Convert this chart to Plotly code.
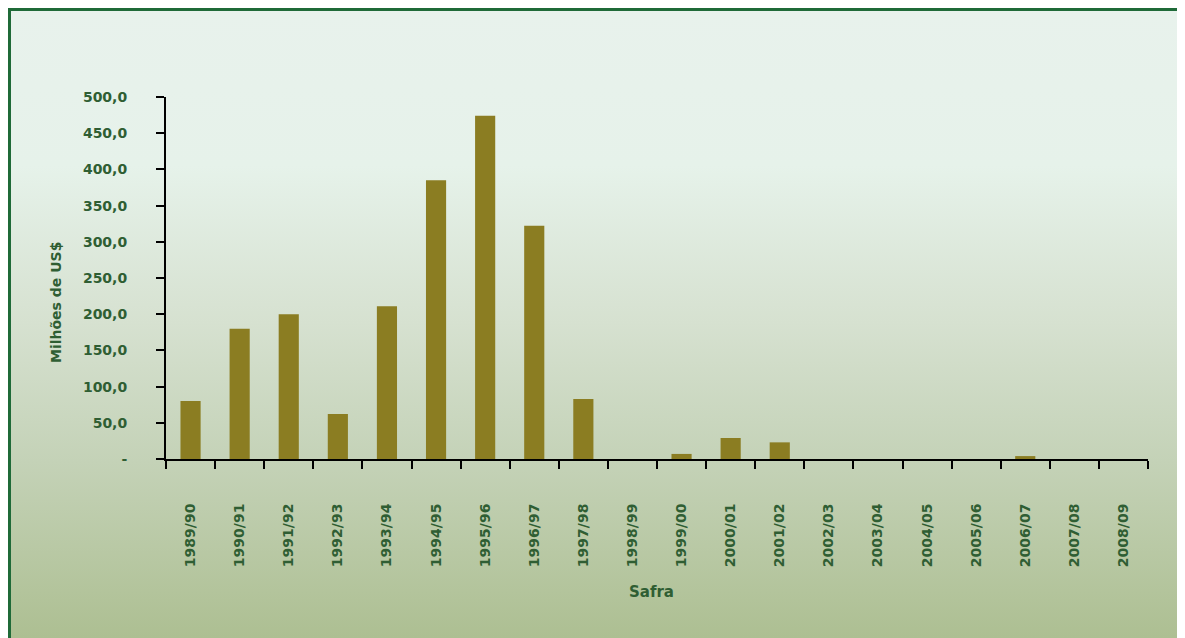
import base64
import plotly.graph_objects as go

# ---- data ----
safras = ["1989/90", "1990/91", "1991/92", "1992/93", "1993/94", "1994/95", "1995/96",
          "1996/97", "1997/98", "1998/99", "1999/00", "2000/01", "2001/02", "2002/03",
          "2003/04", "2004/05", "2005/06", "2006/07", "2007/08", "2008/09"]
valores = [80, 180, 200, 62, 211, 385, 474, 322, 83, 0, 7, 29, 23, 0, 0, 0, 0, 4, 0, 0]
y_tickvals = [0, 50, 100, 150, 200, 250, 300, 350, 400, 450, 500]
y_ticktext = ["-", "50,0", "100,0", "150,0", "200,0", "250,0", "300,0", "350,0",
              "400,0", "450,0", "500,0"]
y_title = "Milhões de US$"
x_title = "Safra"

# ---- layout geometry (pixels); page body has an 8px margin ----
OFF = 8
W, H = 1185 - OFF, 638 - OFF
L, R, T, B = 166 - OFF, 37, 97 - OFF, 179
PW, PH = W - L - R, H - T - B

def px_x(p):  # screen px -> paper x
    return (p - OFF - L) / PW

def px_y(p):  # screen px -> paper y
    return (H - B - (p - OFF)) / PH

GREEN = "#2F5E33"
FONT = "DejaVu Sans"

svg = (
    "<svg xmlns='http://www.w3.org/2000/svg' width='1185' height='638' preserveAspectRatio='none'>"
    "<defs><linearGradient id='g' x1='0' y1='0' x2='0' y2='1'>"
    "<stop offset='0' stop-color='#E8F2EC'/>"
    "<stop offset='0.25' stop-color='#E6F2EA'/>"
    "<stop offset='0.5' stop-color='#D6E1D0'/>"
    "<stop offset='0.72' stop-color='#C4D2B7'/>"
    "<stop offset='1' stop-color='#ADBF92'/>"
    "</linearGradient></defs><rect width='1185' height='638' fill='url(#g)'/></svg>"
)
svg_uri = "data:image/svg+xml;base64," + base64.b64encode(svg.encode()).decode()

fig = go.Figure(
    go.Bar(x=safras, y=valores, marker=dict(color="#8B7D22", line=dict(width=0)))
)

fig.update_layout(
    width=W, height=H,
    margin=dict(l=L, r=R, t=T, b=B, autoexpand=False),
    paper_bgcolor="#D6E1D0",
    plot_bgcolor="rgba(0,0,0,0)",
    bargap=0.59,
    showlegend=False,
    images=[dict(source=svg_uri, xref="paper", yref="paper",
                 x=px_x(OFF), y=px_y(OFF), sizex=W / PW, sizey=H / PH,
                 xanchor="left", yanchor="top", sizing="stretch", layer="below")],
    shapes=[dict(type="rect", xref="paper", yref="paper",
                 x0=px_x(OFF + 1.5), y0=px_y(OFF + 1.5), x1=px_x(1185 + 10), y1=px_y(638 + 10),
                 line=dict(color="#1F6A38", width=3), fillcolor="rgba(0,0,0,0)")],
    annotations=[
        dict(text=y_title, xref="paper", yref="paper", x=px_x(56), y=px_y(303),
             textangle=-90, showarrow=False, xanchor="center", yanchor="middle",
             font=dict(family=FONT, size=14, color=GREEN, weight="bold")),
        dict(text=x_title, xref="paper", yref="paper", x=px_x(651), y=px_y(592),
             showarrow=False, xanchor="center", yanchor="middle",
             font=dict(family=FONT, size=15, color=GREEN, weight="bold")),
    ],
)

fig.update_xaxes(
    type="category", tickson="boundaries", ticks="outside", ticklen=8, tickwidth=2,
    tickcolor="black", showline=True, linecolor="black", linewidth=2, showgrid=False,
    tickangle=-90, ticklabelstandoff=37,
    tickfont=dict(family=FONT, size=14, color=GREEN, weight="bold"),
)
fig.update_yaxes(
    range=[0, 500], tickvals=y_tickvals, ticktext=y_ticktext, ticks="outside",
    ticklen=8, tickwidth=2, tickcolor="black", showline=True, linecolor="black",
    linewidth=2, showgrid=False, zeroline=False, ticklabelstandoff=26,
    tickfont=dict(family=FONT, size=14, color=GREEN, weight="bold"),
)

fig.write_html("out.html")
